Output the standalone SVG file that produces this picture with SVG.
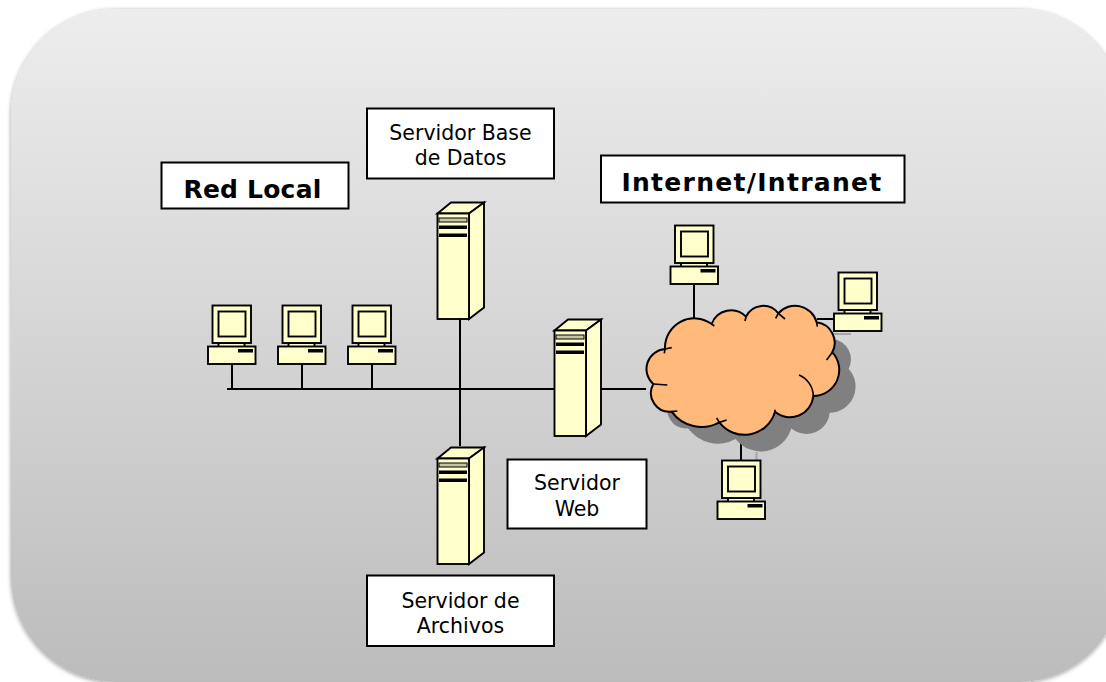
<svg xmlns="http://www.w3.org/2000/svg" xmlns:xlink="http://www.w3.org/1999/xlink" width="1106" height="682" viewBox="0 0 1106 682">
<style>
.y{fill:#ffffcc;stroke:#000;stroke-width:1.9;stroke-linejoin:miter}
.k{fill:#000}
.c{fill:none;stroke:#000;stroke-width:2}
.g{fill:none;stroke:#a6a6a6;stroke-width:2}
.b{fill:#fff;stroke:#000;stroke-width:2}
.t{font-family:"DejaVu Sans",Verdana,sans-serif;font-size:20.5px;fill:#000;text-anchor:middle}
.h{font-family:"DejaVu Sans",Verdana,sans-serif;font-size:25px;font-weight:bold;fill:#000;text-anchor:middle}
</style>
<defs>
<linearGradient id="bg" x1="0" y1="0" x2="0" y2="1"><stop offset="0" stop-color="#ededed"/><stop offset="1" stop-color="#bcbcbc"/></linearGradient>
<filter id="sh" x="-5%" y="-5%" width="110%" height="110%"><feDropShadow dx="0" dy="1" stdDeviation="2" flood-color="#000" flood-opacity=".4"/></filter>
<g id="pc">
<rect class="y" x="218.500" y="343" width="26" height="4"/>
<rect class="y" x="212.500" y="305.500" width="38.500" height="37.500"/>
<rect class="y" x="218.500" y="311.500" width="27" height="25"/>
<rect class="y" x="208" y="346.500" width="47.500" height="17.500"/>
<rect class="k" x="238" y="349" width="15" height="3.500"/>
</g>
<g id="srv">
<path class="y" d="M437.500 213.500L451 202.500H484L469 213.500Z"/>
<path class="y" d="M469 213.500L484 202.500V307.500L469 319Z"/>
<rect class="y" x="437.500" y="213.500" width="31.500" height="105.500"/>
<rect x="439" y="218" width="28" height="4" fill="#c8c8a0" stroke="#000" stroke-width="1"/>
<rect class="k" x="439" y="225.500" width="28" height="3.500"/>
<rect class="k" x="439" y="233.500" width="28" height="3.500"/>
</g>
<path id="cl" d="M105 402A88 88 0 0 1 245 327A62 62 0 0 1 348 305A57 57 0 0 1 445 295A67 67 0 0 1 560 322A62 62 0 0 1 607 412A78 78 0 0 1 550 543A70 70 0 0 1 435 590A95 95 0 0 1 268 622A110 110 0 0 1 125 590A56 56 0 0 1 70 507A60 60 0 0 1 105 402Z"/>
</defs>
<rect x="11" y="9" width="1112" height="673" rx="105" ry="105" fill="url(#bg)" filter="url(#sh)"/>
<g id="connectors">
<path class="c" d="M227 389H646M460 319V446M232 364V389M302 364V389M372 364V389M694 285V318M817 319H836M741 435V460"/>
<path class="g" d="M833 334H851M756.500 452V475"/>
</g>
<g id="cloud" transform="translate(630 215) scale(.33333)">
<use xlink:href="#cl" href="#cl" transform="translate(49 50)" fill="#808080"/>
<use xlink:href="#cl" href="#cl" fill="#ffb97a" stroke="#000" stroke-width="6"/>
<path fill="none" stroke="#000" stroke-width="5" d="M105 402L103 415M105 402L125 398M245 327L253 333M348 305L345 318M445 295L437 310M445 295L465 312M560 322L562 335M607 412L590 435M550 543A70 70 0 0 0 507 480M435 590L435 584M268 622L260 609M268 622L290 615M125 590L142 588M70 507L112 510"/>
</g>
<g id="pc1"><use xlink:href="#pc" href="#pc"/></g>
<g id="pc2"><use xlink:href="#pc" href="#pc" x="70"/></g>
<g id="pc3"><use xlink:href="#pc" href="#pc" x="140"/></g>
<g id="pc4"><use xlink:href="#pc" href="#pc" x="462.500" y="-80"/></g>
<g id="pc5"><use xlink:href="#pc" href="#pc" x="626" y="-33"/></g>
<g id="pc6"><use xlink:href="#pc" href="#pc" x="509.500" y="155"/></g>
<g id="srv-db"><use xlink:href="#srv" href="#srv"/></g>
<g id="srv-web"><use xlink:href="#srv" href="#srv" x="117" y="117"/></g>
<g id="srv-files"><use xlink:href="#srv" href="#srv" y="245"/></g>
<g id="lbl-db"><rect class="b" x="367" y="108.500" width="187" height="70"/><text class="t" x="460.500" y="140">Servidor Base</text><text class="t" x="460.500" y="165">de Datos</text></g>
<g id="lbl-red"><rect class="b" x="161.500" y="162.500" width="187" height="46"/><text class="h" x="252.500" y="198" letter-spacing=".2">Red Local</text></g>
<g id="lbl-inet"><rect class="b" x="601" y="155.500" width="303.500" height="47"/><text class="h" x="752" y="191" letter-spacing="1.3">Internet/Intranet</text></g>
<g id="lbl-web"><rect class="b" x="507.500" y="459.500" width="139" height="69"/><text class="t" x="577" y="490">Servidor</text><text class="t" x="577" y="515.500">Web</text></g>
<g id="lbl-files"><rect class="b" x="367" y="575.500" width="187" height="70.500"/><text class="t" x="460.500" y="607.500">Servidor de</text><text class="t" x="460.500" y="633">Archivos</text></g>
</svg>
